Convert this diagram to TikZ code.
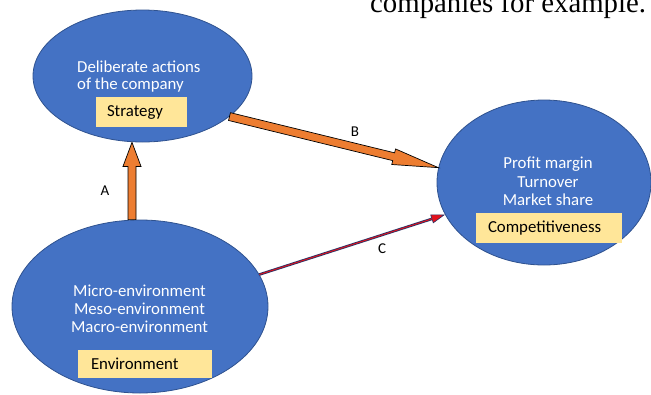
\documentclass[tikz,border=0pt]{standalone}
\usepackage{fontspec}
\setmainfont{Carlito}
\newfontfamily\serifdoc{Liberation Serif}
\usetikzlibrary{shapes.geometric,arrows.meta,calc}
\definecolor{ellblue}{HTML}{4472C4}
\definecolor{ellborder}{HTML}{2F528F}
\definecolor{boxyellow}{HTML}{FFE699}
\definecolor{arroworange}{HTML}{ED7D31}
\definecolor{navyline}{HTML}{2A3366}
\definecolor{redline}{HTML}{E3121C}
\begin{document}
\begin{tikzpicture}[x=1pt,y=-1pt,
  bubble/.style={ellipse, fill=ellblue, draw=ellborder, line width=0.8pt, inner sep=0pt},
  bubbletext/.style={text=white, font=\fontsize{16.8}{18}\selectfont, inner sep=0pt},
  labelbox/.style={rectangle, fill=boxyellow, inner sep=0pt},
  boxtext/.style={text=black, font=\fontsize{16.8}{18}\selectfont, inner sep=0pt, anchor=base west},
  blockarrow/.style={fill=arroworange, draw=black, line width=0.7pt, line join=miter},
  arrowlabel/.style={font=\fontsize{15}{16}\selectfont, inner sep=0pt},
]
\useasboundingbox (0,0) rectangle (651,394);
\clip (0,0) rectangle (651,394);

% cut-off line of the surrounding document
\node[anchor=base west, font=\serifdoc\fontsize{28.8}{30}\selectfont, inner sep=0pt] (toptext) at (370,12) {companies for example.};

% ellipses
\node[bubble, minimum width=219pt, minimum height=132pt] (e1) at (142.5,76) {};
\node[bubble, minimum width=256pt, minimum height=173pt] (e2) at (140,306.5) {};
\node[bubble, minimum width=214pt, minimum height=165pt] (e3) at (544,182.5) {};

% ellipse texts
\node[bubbletext, anchor=base west] (d1) at (77,72) {Deliberate actions};
\node[bubbletext, anchor=base west] (d2) at (77,89) {of the company};

\node[bubbletext, anchor=base] (m1) at (139.5,296) {Micro-environment};
\node[bubbletext, anchor=base] (m2) at (139.5,314) {Meso-environment};
\node[bubbletext, anchor=base] (m3) at (139.5,332) {Macro-environment};

\node[bubbletext, anchor=base] (p1) at (548,168) {Profit margin};
\node[bubbletext, anchor=base] (p2) at (548,187) {Turnover};
\node[bubbletext, anchor=base] (p3) at (548,205) {Market share};

% yellow boxes
\node[labelbox, minimum width=91pt, minimum height=30pt] (sbox) at (141.5,112) {};
\node[boxtext] (stext) at ($(sbox.west)+(11,4)$) {Strategy};
\node[labelbox, minimum width=134pt, minimum height=28pt] (ebox) at (145,364) {};
\node[boxtext] (etext) at ($(ebox.west)+(13,5)$) {Environment};
\node[labelbox, minimum width=146pt, minimum height=30pt] (cbox) at (549,228) {};
\node[boxtext] (ctext) at ($(cbox.west)+(12,4)$) {Competitiveness};

% arrow A
\coordinate (aS) at ($(e2.north)+(-8,0)$);
\coordinate (aT) at ($(e1.south)+(-10.5,0)$);
\coordinate (aH) at ($(aT)!24pt!(aS)$);
\draw[blockarrow] ($(aS)!4pt!90:(aT)$) -- ($(aH)!4pt!90:(aT)$) -- ($(aH)!9pt!90:(aT)$) -- (aT)
  -- ($(aH)!9pt!-90:(aT)$) -- ($(aH)!4pt!-90:(aT)$) -- ($(aS)!4pt!-90:(aT)$) -- cycle;

% arrow B
\coordinate (bS) at (e1.-25);
\coordinate (bT) at (e3.172);
\coordinate (bH) at ($(bT)!46pt!(bS)$);
\draw[blockarrow] ($(bS)!4pt!90:(bT)$) -- ($(bH)!4pt!90:(bT)$) -- ($(bH)!8pt!90:(bT)$) -- (bT)
  -- ($(bH)!8pt!-90:(bT)$) -- ($(bH)!4pt!-90:(bT)$) -- ($(bS)!4pt!-90:(bT)$) -- cycle;

% arrow C
\draw[line width=2.6pt, navyline, -{Triangle[length=14pt, width=9pt, fill=redline, line width=0.6pt]}] (e2.15) -- (e3.198);
\draw[line width=0.9pt, redline, shorten >=13pt] (e2.15) -- (e3.198);

% labels
\node[arrowlabel] (la) at (105,191) {A};
\node[arrowlabel] (lb) at (355,131.5) {B};
\node[arrowlabel] (lc) at (382,249) {C};
\end{tikzpicture}
\end{document}
